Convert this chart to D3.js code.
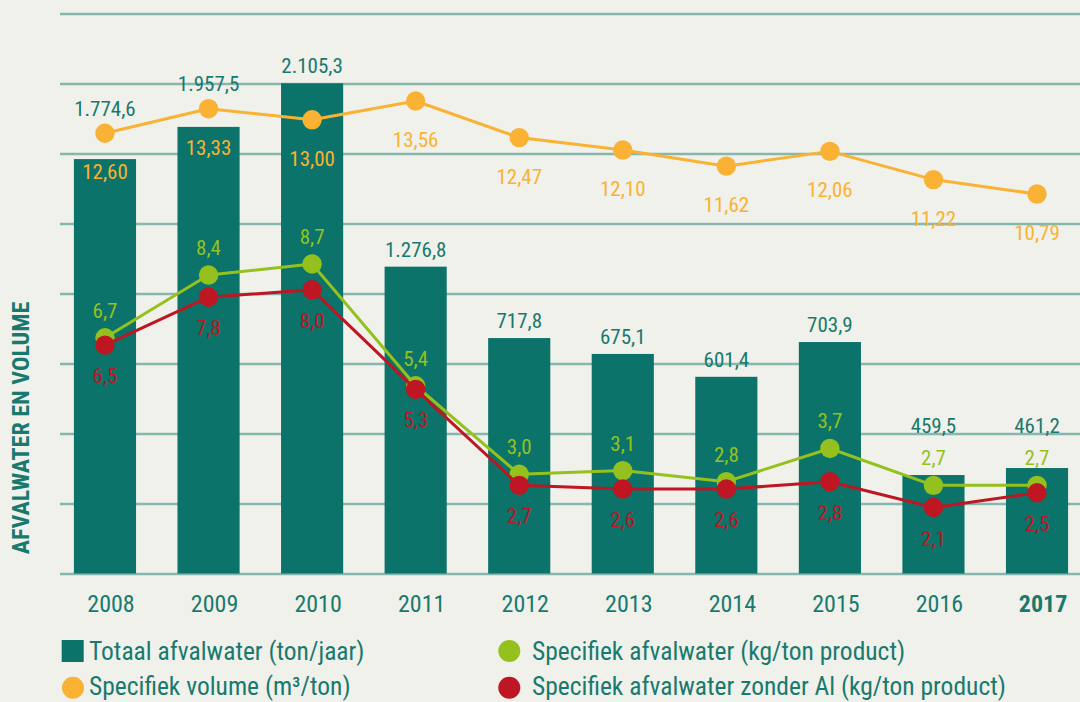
<!DOCTYPE html>
<html>
<head>
<meta charset="utf-8">
<script src="https://cdn.jsdelivr.net/npm/d3@7/dist/d3.min.js"></script>
<style>
  html, body { margin: 0; padding: 0; background: #f0f1ea; }
  svg { display: block; }
  text { font-family: "Liberation Sans Narrow", "Roboto Condensed", "DejaVu Sans Condensed", sans-serif; }
</style>
</head>
<body>
<svg id="chart" width="1080" height="702"></svg>
<script>
var jaren = ["2008", "2009", "2010", "2011", "2012", "2013", "2014", "2015", "2016", "2017"];
// totals as printed above the bars (ton/jaar)
var totaalAfvalwater = [1774.6, 1957.5, 2105.3, 1276.8, 717.8, 675.1, 601.4, 703.9, 459.5, 461.2];
// bar heights as drawn in the source, read off the gridlines (ton) - the source bars are not to scale
var totaalGetekend = [1776, 1914, 2101, 1315, 1009, 941, 843, 992, 422, 452];
var specifiekVolume = [12.60, 13.33, 13.00, 13.56, 12.47, 12.10, 11.62, 12.06, 11.22, 10.79];
var specifiekAfvalwater = [6.7, 8.4, 8.7, 5.4, 3.0, 3.1, 2.8, 3.7, 2.7, 2.7];
var zonderAl = [6.5, 7.8, 8.0, 5.3, 2.7, 2.6, 2.6, 2.8, 2.1, 2.5];
var rasterWaarden = [0, 300, 600, 900, 1200, 1500, 1800, 2100, 2400];
var legendaItems = ["Totaal afvalwater (ton/jaar)", "Specifiek volume (m³/ton)",
  "Specifiek afvalwater (kg/ton product)", "Specifiek afvalwater zonder Al (kg/ton product)"];

var teal = "#0b7369", tekst = "#18796f", raster = "#86b7ae";
var oranje = "#f9b233", groen = "#95c11f", rood = "#be1622";

var nl = d3.formatLocale({decimal: ",", thousands: ".", grouping: [3], currency: ["€", ""]});
var fTon = nl.format(",.1f"), fVol = nl.format(".2f"), fSpec = nl.format(".1f");

var svg = d3.select("#chart");

var x = d3.scaleBand().domain(jaren).range([53.2, 1088.8]).paddingInner(0.4).paddingOuter(0.2);
var yTon = d3.scaleLinear().domain([0, 2400]).range([573.5, 13.5]);
var yVol = d3.scaleLinear().domain([10, 14]).range([220.6, 86.2]);
var ySpec = d3.scaleLinear().domain([0, 10]).range([585, 216]);
var cx = function(i) { return x(jaren[i]) + x.bandwidth() / 2; };
var r = 9.7;

// gridlines
svg.append("g").attr("transform", "translate(60,0)")
  .call(d3.axisLeft(yTon).tickValues(rasterWaarden).tickSize(-1020).tickFormat(""))
  .call(function(g) { g.select(".domain").remove(); })
  .selectAll("line").attr("stroke", raster).attr("stroke-width", 2.6);

// bars
svg.selectAll("rect.bar").data(totaalGetekend).enter().append("rect").attr("class", "bar")
  .attr("x", function(d, i) { return x(jaren[i]); })
  .attr("width", x.bandwidth())
  .attr("y", function(d) { return yTon(d); })
  .attr("height", function(d) { return yTon(0) - yTon(d); })
  .attr("fill", teal);

// x axis
svg.append("g").attr("transform", "translate(0,573.5)")
  .call(d3.axisBottom(x).tickSize(0).tickPadding(21))
  .call(function(g) { g.select(".domain").remove(); })
  .selectAll("text")
  .attr("dx", 6)
  .attr("fill", tekst)
  .style("font-size", "24px")
  .style("font-family", "'Liberation Sans Narrow', 'Roboto Condensed', sans-serif")
  .style("font-weight", function(d) { return d == "2017" ? "bold" : "normal"; });

// lines
var maakLijn = function(data, y, kleur, cls) {
  var lijn = d3.line().x(function(d, i) { return cx(i); }).y(function(d) { return y(d); });
  svg.append("path").datum(data).attr("d", lijn)
    .attr("fill", "none").attr("stroke", kleur).attr("stroke-width", 3).attr("stroke-linejoin", "round");
  svg.selectAll("circle." + cls).data(data).enter().append("circle").attr("class", cls)
    .attr("cx", function(d, i) { return cx(i); })
    .attr("cy", function(d) { return y(d); })
    .attr("r", r).attr("fill", kleur);
};
maakLijn(specifiekVolume, yVol, oranje, "vol");
maakLijn(specifiekAfvalwater, ySpec, groen, "spec");
maakLijn(zonderAl, ySpec, rood, "zal");

var labels = function(data, y, dy, fmt, kleur) {
  svg.append("g").selectAll("text").data(data).enter().append("text")
    .attr("x", function(d, i) { return cx(i); })
    .attr("y", function(d) { return y(d) + dy; })
    .attr("text-anchor", "middle")
    .attr("fill", kleur)
    .style("font-size", "21px")
    .text(function(d) { return fmt(d); });
};
labels(specifiekVolume, yVol, 46, fVol, oranje);
labels(specifiekAfvalwater, ySpec, -20, fSpec, groen);
labels(zonderAl, ySpec, 38, fSpec, rood);

// total labels: above the bar, pushed up past any dot or label in the way
var labelY = function(d, i) {
  var b = yTon(d) - 10;
  var hindernis = [
    [yVol(specifiekVolume[i]) - r, yVol(specifiekVolume[i]) + r, 8],
    [ySpec(specifiekAfvalwater[i]) - 36, ySpec(specifiekAfvalwater[i]) - 19, 16]
  ];
  for (var k = 0; k < 3; k++) {
    hindernis.forEach(function(h) {
      if (b + 1 > h[0] && b - 16 < h[1]) { b = h[0] - h[2]; }
    });
  }
  return b;
};
svg.append("g").selectAll("text").data(totaalGetekend).enter().append("text")
  .attr("x", function(d, i) { return cx(i); })
  .attr("y", labelY)
  .attr("text-anchor", "middle")
  .attr("fill", tekst)
  .style("font-size", "21px")
  .text(function(d, i) { return fTon(totaalAfvalwater[i]); });

// y title
svg.append("text")
  .attr("transform", "translate(29.3,428) rotate(-90)")
  .attr("text-anchor", "middle")
  .attr("fill", tekst)
  .style("font-size", "24px")
  .style("font-weight", "bold")
  .text("AFVALWATER EN VOLUME");

// legend
var legenda = svg.append("g");
legenda.append("rect").attr("x", 61.7).attr("y", 640).attr("width", 22).attr("height", 22).attr("fill", teal);
legenda.append("circle").attr("cx", 73).attr("cy", 687.7).attr("r", 11).attr("fill", oranje);
legenda.append("circle").attr("cx", 509.3).attr("cy", 651).attr("r", 11).attr("fill", groen);
legenda.append("circle").attr("cx", 509.3).attr("cy", 687.7).attr("r", 11).attr("fill", rood);
var legPos = [[89, 660], [89, 695], [532, 660], [532, 695]];
legenda.selectAll("text").data(legendaItems).enter().append("text")
  .attr("x", function(d, i) { return legPos[i][0]; })
  .attr("y", function(d, i) { return legPos[i][1]; })
  .attr("fill", tekst)
  .style("font-size", "25.5px")
  .text(function(d) { return d; });
</script>
</body>
</html>
